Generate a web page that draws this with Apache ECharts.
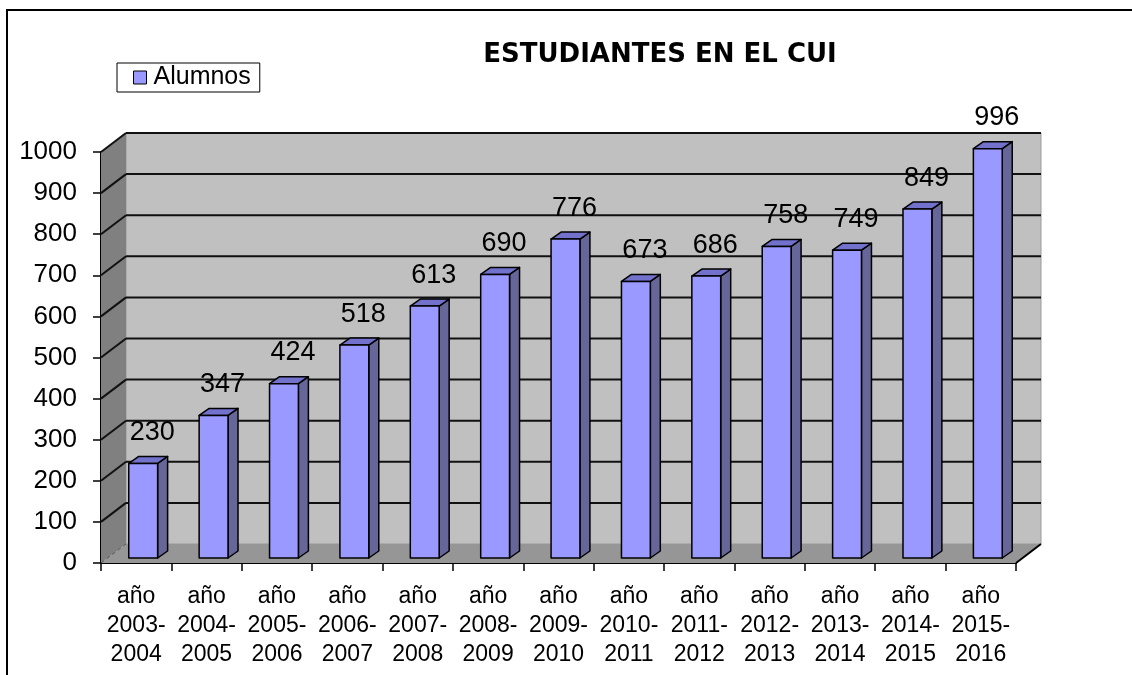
<!DOCTYPE html>
<html>
<head>
<meta charset="utf-8">
<script src="https://cdn.jsdelivr.net/npm/echarts@6/dist/echarts.min.js"></script>
<style>
  html, body { margin: 0; padding: 0; background: #fff; }
  #chart { width: 1132px; height: 675px; }
</style>
</head>
<body>
<div id="chart"></div>
<script>
// datos
var cursos = ['año\n2003-\n2004', 'año\n2004-\n2005', 'año\n2005-\n2006', 'año\n2006-\n2007',
  'año\n2007-\n2008', 'año\n2008-\n2009', 'año\n2009-\n2010', 'año\n2010-\n2011',
  'año\n2011-\n2012', 'año\n2012-\n2013', 'año\n2013-\n2014', 'año\n2014-\n2015', 'año\n2015-\n2016'];
var alumnos = [230, 347, 424, 518, 613, 690, 776, 673, 686, 758, 749, 849, 996];
var yTicks = [0, 100, 200, 300, 400, 500, 600, 700, 800, 900, 1000];

// profundidad del "3D"
var DX = 25, DY = -19;      // paredes
var BX = 7, BY = -5;        // plano de las barras
var PX = 10, PY = -7;       // grosor de las barras

var chart = echarts.init(document.getElementById('chart'));

function renderWalls(params, api) {
  var cs = params.coordSys;
  var x = cs.x, y = cs.y, w = cs.width, b = cs.y + cs.height;
  return {
    type: 'group',
    children: [
      { type: 'rect', shape: { x: x + DX, y: y + DY, width: w, height: b - y },
        style: { fill: '#c0c0c0', stroke: '#9a9a9a', lineWidth: 1 } },
      { type: 'polygon', shape: { points: [[x, b], [x + w, b], [x + w + DX, b + DY], [x + DX, b + DY]] },
        style: { fill: '#969696' } },
      { type: 'polygon', shape: { points: [[x, y], [x + DX, y + DY], [x + DX, b + DY], [x, b]] },
        style: { fill: '#808080' } },
      { type: 'line', shape: { x1: x + w, y1: b, x2: x + w + DX, y2: b + DY },
        style: { stroke: '#000', lineWidth: 2 } }
    ]
  };
}

function renderGridLines(params, api) {
  var cs = params.coordSys;
  var x = cs.x, w = cs.width;
  var v = api.value(1);
  var yv = api.coord([0, v])[1];
  if (v === 0) {
    return { type: 'line', shape: { x1: x, y1: yv, x2: x + DX, y2: yv + DY },
      style: { stroke: '#555', lineWidth: 1, lineDash: [4, 3] } };
  }
  return {
    type: 'group',
    children: [
      { type: 'line', shape: { x1: x + DX, y1: yv + DY, x2: x + w + DX, y2: yv + DY },
        style: { stroke: '#111', lineWidth: 2 } },
      { type: 'line', shape: { x1: x, y1: yv, x2: x + DX, y2: yv + DY },
        style: { stroke: '#111', lineWidth: 2 } }
    ]
  };
}

function renderBar(params, api) {
  var cat = api.value(0), val = api.value(1);
  var p0 = api.coord([cat, 0]);
  var p1 = api.coord([cat, val]);
  var bw = api.size([1, 0])[0] * 0.41;
  var cx = p0[0] + BX;
  var xl = cx - bw / 2, xr = cx + bw / 2;
  var top = p1[1] + BY, bot = p0[1] + BY;
  var edge = { stroke: '#000', lineWidth: 1.5, lineJoin: 'round' };
  return {
    type: 'group',
    children: [
      { type: 'polygon', shape: { points: [[xr, top], [xr + PX, top + PY], [xr + PX, bot + PY], [xr, bot]] },
        style: Object.assign({ fill: '#666699' }, edge) },
      { type: 'polygon', shape: { points: [[xl, top], [xl + PX, top + PY], [xr + PX, top + PY], [xr, top]] },
        style: Object.assign({ fill: '#7272cc' }, edge) },
      { type: 'rect', shape: { x: xl, y: top, width: bw, height: bot - top },
        style: Object.assign({ fill: '#9999ff' }, edge) },
      { type: 'text', x: cx + 9, y: top - 31,
        style: { text: String(val), fill: '#000', font: '27px "Liberation Sans", Arial, sans-serif',
          align: 'center', verticalAlign: 'middle' } }
    ]
  };
}

chart.setOption({
  backgroundColor: '#ffffff',
  animation: false,
  title: {
    text: 'ESTUDIANTES EN EL CUI',
    left: 660,
    top: 42,
    padding: 0,
    textAlign: 'center',
    textStyle: {
      fontFamily: 'DejaVu Sans',
      fontWeight: 'bold',
      fontSize: 26,
      color: '#000'
    }
  },
  legend: {
    left: 117,
    top: 63,
    padding: [2, 9, 2, 16],
    borderColor: '#000',
    borderWidth: 1,
    backgroundColor: '#fff',
    itemWidth: 13,
    itemHeight: 13,
    itemGap: 0,
    selectedMode: false,
    data: [{ name: 'Alumnos', icon: 'rect' }],
    itemStyle: { borderColor: '#000', borderWidth: 1 },
    textStyle: {
      fontFamily: '"Liberation Sans", Arial, sans-serif',
      fontSize: 25,
      color: '#000',
      padding: [0, 0, 0, 2]
    }
  },
  grid: {
    left: 101,
    right: 116,
    top: 152,
    bottom: 112
  },
  xAxis: {
    type: 'category',
    data: cursos,
    axisLine: { show: true, lineStyle: { color: '#000', width: 2 } },
    axisTick: { show: true, length: 8, lineStyle: { color: '#000', width: 1.5 } },
    axisLabel: {
      margin: 19,
      interval: 0,
      fontFamily: '"Liberation Sans", Arial, sans-serif',
      fontSize: 23,
      lineHeight: 29,
      color: '#000'
    },
    splitLine: { show: false }
  },
  yAxis: {
    type: 'value',
    min: 0,
    max: 1000,
    interval: 100,
    axisLine: { show: true, lineStyle: { color: '#000', width: 2 } },
    axisTick: { show: true, length: 8, lineStyle: { color: '#000', width: 1.5 } },
    axisLabel: {
      margin: 24,
      formatter: function (v) { return String(v); },
      fontFamily: '"Liberation Sans", Arial, sans-serif',
      fontSize: 26,
      color: '#000'
    },
    splitLine: { show: false }
  },
  series: [
    {
      name: 'paredes',
      type: 'custom',
      silent: true,
      z: 1,
      renderItem: renderWalls,
      encode: { x: 0, y: 1 },
      data: [[0, 0]]
    },
    {
      name: 'lineas',
      type: 'custom',
      silent: true,
      z: 2,
      renderItem: renderGridLines,
      encode: { x: 0, y: 1 },
      data: yTicks.map(function (v) { return [0, v]; })
    },
    {
      name: 'Alumnos',
      type: 'custom',
      z: 3,
      itemStyle: { color: '#9999ff' },
      renderItem: renderBar,
      encode: { x: 0, y: 1 },
      data: alumnos.map(function (v, i) { return [i, v]; })
    }
  ],
  graphic: [
    {
      type: 'polyline',
      silent: true,
      shape: { points: [[7, 675], [7, 10], [1132, 10]] },
      style: { stroke: '#000', lineWidth: 2, fill: null }
    }
  ]
});
</script>
</body>
</html>
